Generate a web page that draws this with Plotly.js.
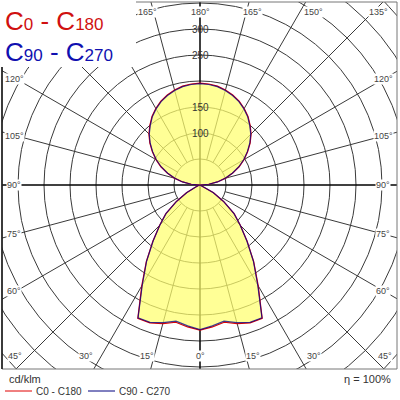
<!DOCTYPE html>
<html><head><meta charset="utf-8">
<script src="https://cdn.plot.ly/plotly-3.0.1.min.js"></script>
<style>html,body{margin:0;padding:0;background:#fff}#chart{width:400px;height:400px}</style>
</head><body><div id="chart"></div>
<script>
// gamma angles (deg), 0 = straight down, 180 = straight up
const gammaAngles = [0,5,10,15,20,25,30,35,40,45,50,55,60,65,70,75,80,85,90,95,100,105,110,115,120,125,130,135,140,145,150,155,160,165,170,175,180];
// intensities in cd/klm
const c0c180 = [279,274,268,276,282,283,224,180,141,110,86,56,30,10,3,1,0,0,0,17,34,51,67,83,98,112,126,139,150,161,170,178,184,189,193,195,196];
const c90c270 = [278,272,266,274,281,282,222,179,140,109,85,55,29,9,3,1,0,0,0,17,34,50,66,82,97,111,125,138,149,160,169,177,183,188,192,194,195];
const ringValues = [50,100,150,200,250,300,350,400,450,500,550];
const ringLabelValues = [100,150,250,300];
const spokeAngles = [15,30,45,60,75,105,120,135,150,165];
const angleTickLabels = [0,15,30,45,60,75,90,105,120,135,150,165,180];
const seriesNames = ['C0 - C180','C90 - C270'];
const seriesColors = ['#e00000', 'rgba(0,0,140,0.75)'];
const legendColors = ['#e00000', '#000080'];
const unitText = 'cd/klm';
const effText = 'η = 100%';

// geometry (pixels)
const S = 0.52;           // px per cd/klm
const CX = 200, CY = 185; // centre in px
const L = 2, R = 397, T = 2, B = 369;
const toX = px => (px - CX) / S;
const toY = py => (CY - py) / S;
const rad = d => d * Math.PI / 180;

function polarXY(vals, side) {
  const x = [], y = [];
  gammaAngles.forEach((g, i) => { x.push(side * vals[i] * Math.sin(rad(g))); y.push(-vals[i] * Math.cos(rad(g))); });
  return {x, y};
}
function closedCurve(vals) {
  const r = polarXY(vals, 1), l = polarXY(vals, -1);
  return {x: r.x.concat(l.x.slice().reverse()), y: r.y.concat(l.y.slice().reverse())};
}
const fillC = closedCurve(c0c180);
const cA = closedCurve(c0c180);
const cB = closedCurve(c90c270);

const traces = [
  {x: fillC.x, y: fillC.y, mode: 'lines', fill: 'toself', fillcolor: 'rgba(255,255,110,0.72)', line: {width: 0}, showlegend: false, hoverinfo: 'skip'},
  {x: cA.x, y: cA.y, mode: 'lines', name: seriesNames[0], line: {color: seriesColors[0], width: 1.2}},
  {x: cB.x, y: cB.y, mode: 'lines', name: seriesNames[1], line: {color: seriesColors[1], width: 1.2}}
];

const shapes = [];
ringValues.forEach(r => shapes.push({type: 'circle', xref: 'x', yref: 'y', x0: -r, x1: r, y0: -r, y1: r, line: {color: '#3a3a3a', width: 1}, layer: 'below'}));
const BIG = 900, R0 = 50;
spokeAngles.forEach(g => {
  [1, -1].forEach(s => {
    const dx = s * Math.sin(rad(g)), dy = -Math.cos(rad(g));
    shapes.push({type: 'line', xref: 'x', yref: 'y', x0: R0 * dx, y0: R0 * dy, x1: BIG * dx, y1: BIG * dy, line: {color: '#3a3a3a', width: 1}, layer: 'below'});
  });
});
shapes.push({type: 'line', xref: 'x', yref: 'y', x0: 0, y0: -BIG, x1: 0, y1: BIG, line: {color: '#000', width: 1.5}, layer: 'below'});
shapes.push({type: 'line', xref: 'x', yref: 'y', x0: -BIG, y0: 0, x1: BIG, y1: 0, line: {color: '#000', width: 1.5}, layer: 'below'});
// frame
const pxX = px => (px - L) / (R - L);
const pxY = py => (B - py) / (B - T);
shapes.push({type: 'rect', xref: 'paper', yref: 'paper', x0: 0, x1: 1, y0: 0, y1: 1, line: {color: '#777', width: 1}, layer: 'above'});
shapes.push({type: 'line', xref: 'paper', yref: 'paper', x0: 0, x1: 0, y0: 0, y1: 1, line: {color: '#111', width: 1.5}, layer: 'above'});
// header block
shapes.push({type: 'rect', xref: 'paper', yref: 'paper', x0: pxX(-2), x1: pxX(136), y0: pxY(67), y1: pxY(-2), fillcolor: '#fff', line: {width: 0}, layer: 'above'});

const annotations = [];
const tickFont = {family: 'Liberation Sans, Arial, sans-serif', size: 9, color: '#444'};
function addAngleLabel(g, side) {
  let px, py;
  if (g === 0 || g === 180) { px = CX; py = g === 0 ? 356 : 12; }
  else if (g === 45 || g === 135) { px = CX + side * (g === 45 ? 185 : 178); py = g === 45 ? 356 : 12; }
  else if (g < 45 || g > 135) {
    const dev = g < 45 ? g : 180 - g;
    px = CX + side * 197 * Math.tan(rad(dev)); py = g < 45 ? 356 : 12;
  } else {
    const el = g - 90; // elevation above horizontal
    px = CX + side * (side > 0 ? 183 : 186); py = CY - 184 * Math.tan(rad(el));
  }
  if (px < 140 && py < 70) return; // hidden by header block
  annotations.push({x: toX(px), y: toY(py), xref: 'x', yref: 'y', text: g + '°', showarrow: false, font: tickFont, bgcolor: '#fff', borderpad: 0, xanchor: 'center', yanchor: 'middle'});
}
angleTickLabels.forEach(g => {
  if (g === 0 || g === 180) addAngleLabel(g, 1);
  else { addAngleLabel(g, 1); addAngleLabel(g, -1); }
});
ringLabelValues.forEach(v => annotations.push({x: 0, y: v, xref: 'x', yref: 'y', text: String(v), showarrow: false, font: {family: 'Liberation Sans, Arial, sans-serif', size: 10, color: '#333'}, xanchor: 'center', yanchor: 'middle'}));

const big = 'font-size:26px', small = 'font-size:17px';
annotations.push({xref: 'paper', yref: 'paper', x: pxX(3), y: pxY(21), xanchor: 'left', yanchor: 'middle', showarrow: false,
  text: `<span style="${big}">C</span><span style="${small}">0</span><span style="${big}"> - C</span><span style="${small}">180</span>`,
  font: {family: 'Liberation Sans, Arial, sans-serif', size: 26, color: '#d01010'}});
annotations.push({xref: 'paper', yref: 'paper', x: pxX(3), y: pxY(52), xanchor: 'left', yanchor: 'middle', showarrow: false,
  text: `<span style="${big}">C</span><span style="${small}">90</span><span style="${big}"> - C</span><span style="${small}">270</span>`,
  font: {family: 'Liberation Sans, Arial, sans-serif', size: 26, color: '#1010b0'}});
annotations.push({xref: 'paper', yref: 'paper', x: pxX(7), y: pxY(379), xanchor: 'left', yanchor: 'middle', showarrow: false, text: unitText, font: {family: 'Liberation Sans, Arial, sans-serif', size: 11, color: '#333'}});
annotations.push({xref: 'paper', yref: 'paper', x: pxX(393), y: pxY(379), xanchor: 'right', yanchor: 'middle', showarrow: false, text: effText, font: {family: 'Liberation Sans, Arial, sans-serif', size: 11, color: '#333'}});

// legend drawn in the bottom strip
const legendPos = [{x0: 5, x1: 32, tx: 34}, {x0: 88, x1: 115, tx: 117}];
seriesNames.forEach((n, i) => {
  const p = legendPos[i];
  shapes.push({type: 'line', xref: 'paper', yref: 'paper', x0: pxX(p.x0), x1: pxX(p.x1), y0: pxY(391), y1: pxY(391), line: {color: legendColors[i], width: 1}});
  annotations.push({xref: 'paper', yref: 'paper', x: pxX(p.tx), y: pxY(391), xanchor: 'left', yanchor: 'middle', showarrow: false, text: n, font: {family: 'Liberation Sans, Arial, sans-serif', size: 10, color: '#333'}});
});

const layout = {
  width: 400, height: 400, autosize: false,
  margin: {l: L, r: 400 - R, t: T, b: 400 - B, pad: 0, autoexpand: false},
  paper_bgcolor: '#fff', plot_bgcolor: '#fff',
  xaxis: {range: [toX(L), toX(R)], showgrid: false, zeroline: false, showticklabels: false, ticks: '', fixedrange: true, showline: false},
  yaxis: {range: [toY(B), toY(T)], showgrid: false, zeroline: false, showticklabels: false, ticks: '', fixedrange: true, showline: false},
  showlegend: false,
  shapes, annotations
};
Plotly.newPlot('chart', traces, layout, {staticPlot: true, displayModeBar: false});
</script></body></html>
